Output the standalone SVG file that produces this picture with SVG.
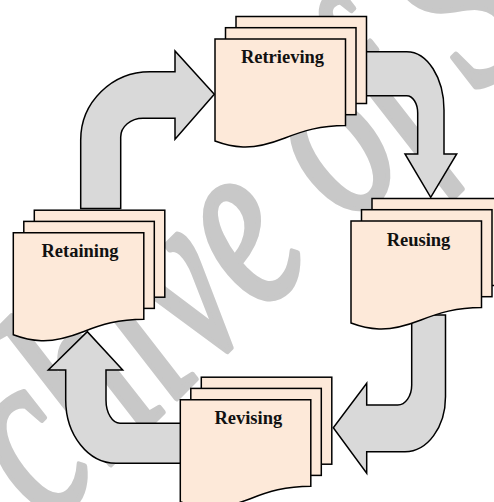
<svg xmlns="http://www.w3.org/2000/svg" xmlns:xlink="http://www.w3.org/1999/xlink" width="494" height="502" viewBox="0 0 494 502">
<style>
.sheet{fill:#fde9d9;stroke:#000;stroke-width:1.5;stroke-linejoin:miter}
.arrow{fill:#d9d9d9;stroke:#000;stroke-width:1.5;stroke-linejoin:miter}
.label{font-family:"Liberation Serif","Times New Roman",serif;font-weight:bold;font-size:18.5px;fill:#111;text-anchor:middle}
.wm{font-family:"Liberation Serif","Times New Roman",serif;font-style:italic;font-size:180px;fill:#c8c8c8;stroke:#c8c8c8;stroke-width:4;stroke-linejoin:round}
</style>
<defs>
<g id="stack">
<rect class="sheet" x="21" y="-22.5" width="130.5" height="87"/>
<rect class="sheet" x="10.5" y="-11.3" width="130.5" height="87"/>
<path class="sheet" d="M0,102 V0 H130.5 V86.5 C105,86.5 88,92 70,99 C52,106 40,108.5 28,108 C17,107.5 8,105 0,102 Z"/>
</g>
</defs>
<rect width="494" height="502" fill="#fff"/>
<text class="wm" transform="translate(-73.6,648.6) rotate(-45) scale(1,1.4)">Archive of SID</text>
<g id="connectors">
<path class="arrow" d="M80.7,208.5 V140 A69.3 68.3 0 0 1 150,71.7 H175 V51 L214.3,94.3 L175,139.3 V118.3 H143 A22.3 18.7 0 0 0 120.7,137 V208.5 Z"/>
<path class="arrow" d="M360,51.7 H406.7 A37.3 58.3 0 0 1 444,110 V154 H456.7 L430.7,197.3 L405,154 H417.7 V113 A11 17.3 0 0 0 406.7,95.7 H360 Z"/>
<path class="arrow" d="M411.7,315 V385 A14 20 0 0 1 397.7,405 H366.7 V383.3 L333.3,427.7 L366.7,473.3 V451.7 H405 A40.5 55 0 0 0 445.5,396.7 V315 Z"/>
<path class="arrow" d="M190,423.3 H120 A14 23.3 0 0 1 106,400 V370 H122.7 L87.3,331.7 L48.3,370 H65.7 V400 A50.3 63.3 0 0 0 116,463.3 H190 Z"/>
</g>
<g id="retrieving">
<use xlink:href="#stack" transform="translate(215,39)"/>
<text class="label" x="282.5" y="63.3">Retrieving</text>
</g>
<g id="reusing">
<use xlink:href="#stack" transform="translate(351,221)"/>
<text class="label" x="418.5" y="245.7">Reusing</text>
</g>
<g id="retaining">
<use xlink:href="#stack" transform="translate(13.3,232.7)"/>
<text class="label" x="80" y="257.3">Retaining</text>
</g>
<g id="revising">
<use xlink:href="#stack" transform="translate(180.3,399.7)"/>
<text class="label" x="248.3" y="424.3">Revising</text>
</g>
</svg>
